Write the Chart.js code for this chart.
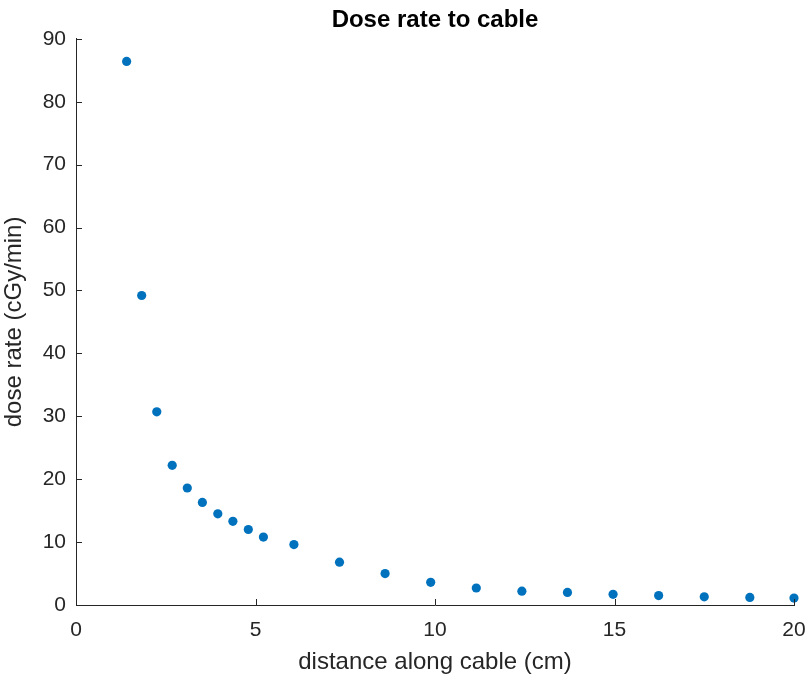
<!DOCTYPE html>
<html>
<head>
<meta charset="utf-8">
<script src="https://cdn.jsdelivr.net/npm/chart.js@4.4.1/dist/chart.umd.min.js"></script>
<style>
html,body{margin:0;padding:0;background:#fff;}
#wrap{width:809px;height:677px;}
</style>
</head>
<body>
<div id="wrap"><canvas id="c" width="809" height="677"></canvas></div>
<script>
const distance = [1.41,1.83,2.25,2.68,3.10,3.52,3.95,4.37,4.80,5.22,6.07,7.34,8.61,9.88,11.15,12.42,13.69,14.96,16.23,17.50,18.77,20.0];
const doseRate = [86.4,49.2,30.7,22.2,18.6,16.3,14.5,13.3,12.0,10.8,9.6,6.8,5.0,3.6,2.7,2.2,2.0,1.7,1.5,1.3,1.2,1.1];
const xTicks = [0,5,10,15,20];
const yTicks = [0,10,20,30,40,50,60,70,80,90];

const axisColor = '#262626';
const FONT = 'Arial, "Liberation Sans", Helvetica, sans-serif';

const inwardTicks = {
  id: 'inwardTicks',
  afterDraw(chart) {
    const {ctx, chartArea, scales} = chart;
    ctx.save();
    ctx.strokeStyle = axisColor;
    ctx.lineWidth = 1;
    ctx.beginPath();
    xTicks.forEach(v => {
      const px = Math.round(scales.x.getPixelForValue(v)) + 0.5;
      ctx.moveTo(px, chartArea.bottom);
      ctx.lineTo(px, chartArea.bottom - 6);
    });
    yTicks.forEach(v => {
      const py = Math.round(scales.y.getPixelForValue(v)) + 0.5;
      ctx.moveTo(chartArea.left, py);
      ctx.lineTo(chartArea.left + 6, py);
    });
    ctx.stroke();
    ctx.restore();
  }
};

new Chart(document.getElementById('c'), {
  type: 'scatter',
  data: {
    datasets: [{
      data: distance.map((d, i) => ({x: d, y: doseRate[i]})),
      backgroundColor: '#0072BD',
      borderColor: '#0072BD',
      pointRadius: 4.6,
      pointBorderWidth: 0,
      pointHoverRadius: 4.6,
      clip: false
    }]
  },
  options: {
    responsive: false,
    animation: false,
    layout: {padding: {left: 0, right: 15, top: 0, bottom: 0}},
    plugins: {
      legend: {display: false},
      tooltip: {enabled: false},
      title: {
        display: true,
        fullSize: false,
        text: 'Dose rate to cable',
        color: '#000',
        font: {family: FONT, size: 24, weight: 'bold'},
        padding: {top: 6, bottom: 4}
      }
    },
    scales: {
      x: {
        type: 'linear',
        min: 0, max: 20,
        afterBuildTicks(s) { s.ticks = xTicks.map(v => ({value: v})); },
        afterFit(s) { s.height = 72; s.paddingRight = 0; s.paddingLeft = 0; },
        grid: {display: false, drawTicks: false},
        border: {display: true, color: axisColor, width: 1},
        ticks: {color: axisColor, font: {family: FONT, size: 21}, padding: 13, maxRotation: 0},
        title: {display: true, text: 'distance along cable (cm)', color: axisColor,
                font: {family: FONT, size: 24}, padding: {top: 0, bottom: 0}}
      },
      y: {
        type: 'linear',
        min: 0, max: 90,
        afterBuildTicks(s) { s.ticks = yTicks.map(v => ({value: v})); },
        afterFit(s) { s.width = 76; },
        grid: {display: false, drawTicks: false},
        border: {display: true, color: axisColor, width: 1},
        ticks: {color: axisColor, font: {family: FONT, size: 21}, padding: 10},
        title: {display: true, text: 'dose rate (cGy/min)', color: axisColor,
                font: {family: FONT, size: 24}, padding: {top: 0, bottom: 0}}
      }
    }
  },
  plugins: [inwardTicks]
});
</script>
</body>
</html>
